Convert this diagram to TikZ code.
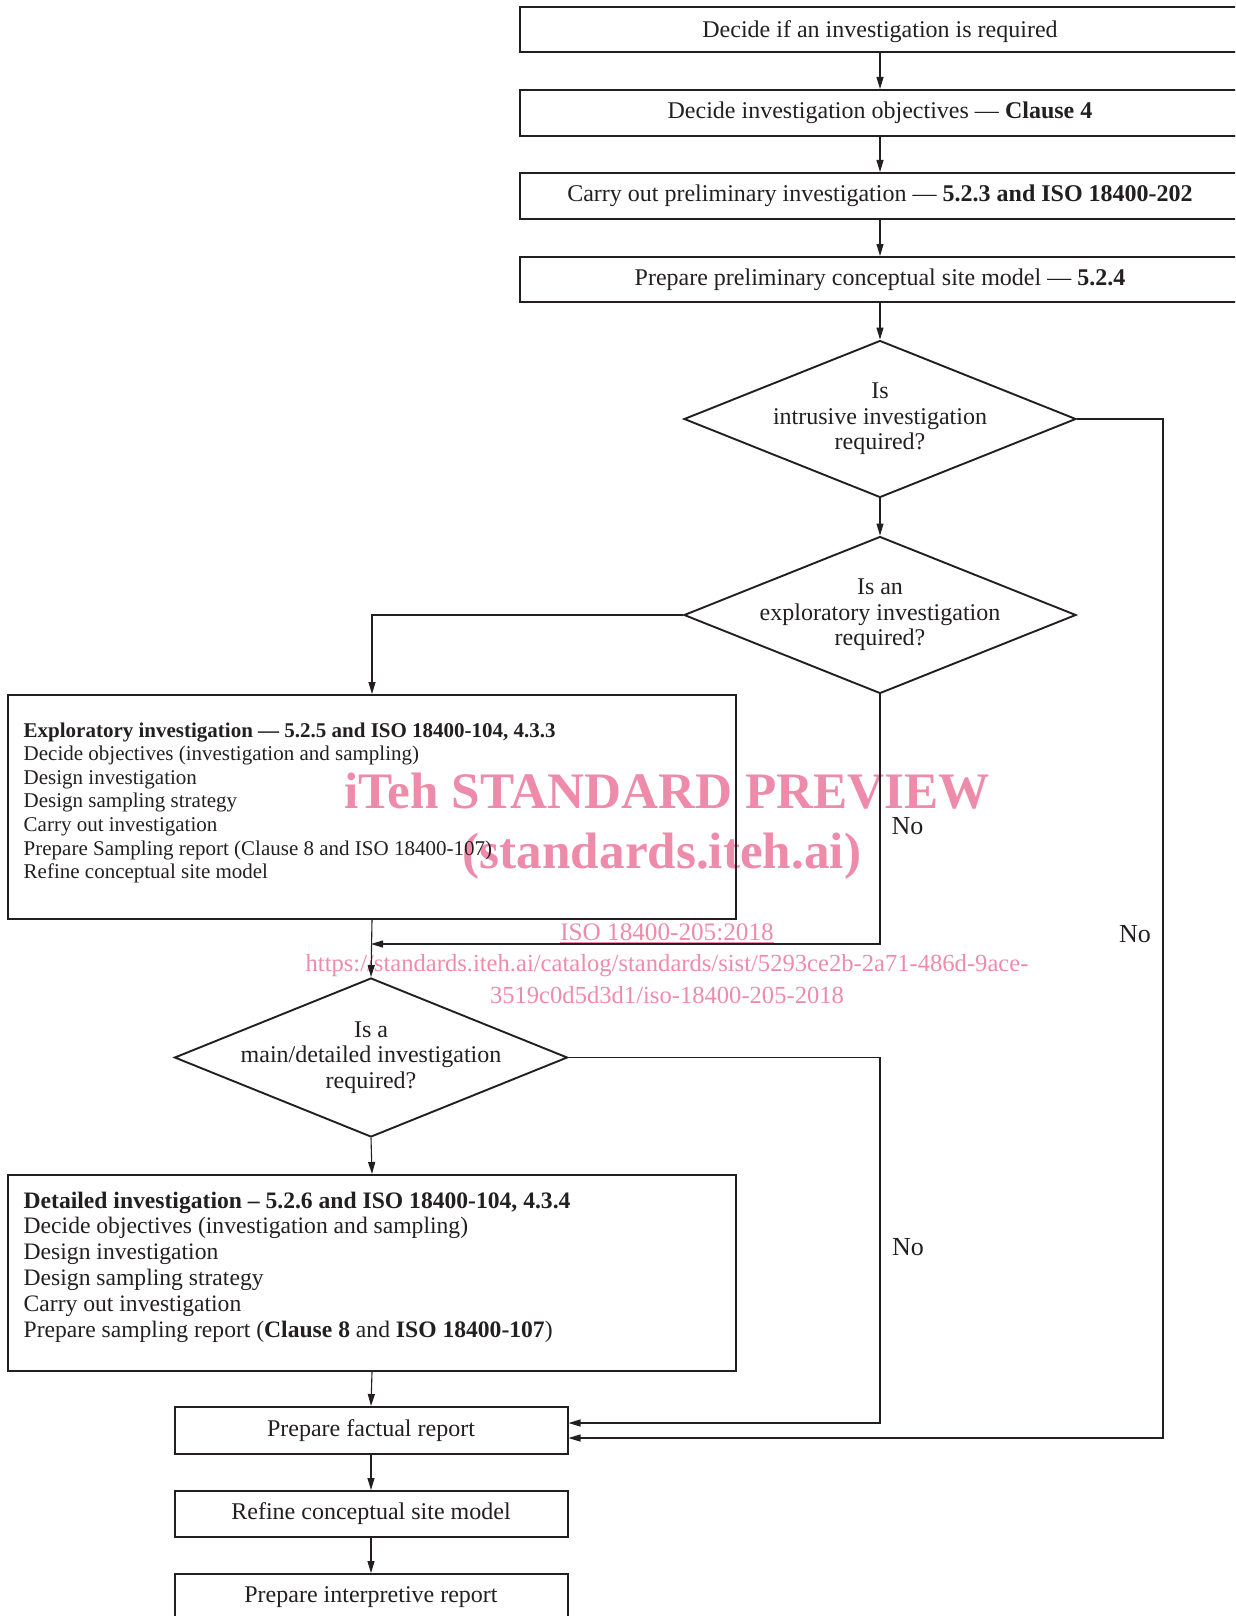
\documentclass[tikz,border=0pt]{standalone}
\usepackage{fontspec}
\setmainfont{Liberation Serif}
\usetikzlibrary{shapes.geometric,arrows.meta}
\definecolor{ink}{RGB}{35,31,32}
\definecolor{wmpink}{RGB}{239,139,170}
\begin{document}
\begin{tikzpicture}[x=1pt,y=-1pt,
  box/.style={draw=ink, line width=2pt, rectangle, inner sep=0pt, text=ink, font=\fontsize{24}{25.5}\selectfont},
  widebox/.style={box, minimum width=720pt, minimum height=45pt},
  lowbox/.style={box, minimum width=393pt, minimum height=46pt},
  dia/.style={draw=ink, line width=1.9pt, shape=diamond, inner sep=0pt, minimum width=392pt, minimum height=157pt},
  dtxt/.style={align=center, text=ink, font=\fontsize{24}{25.5}\selectfont},
  arr/.style={draw=ink, line width=1.1pt, -{Triangle[length=12pt,width=7pt]}},
  nolab/.style={font=\fontsize{26}{28}\selectfont, text=ink, inner sep=0pt},
  wmbig/.style={font=\fontsize{51.2}{55}\selectfont\bfseries, text=wmpink, inner sep=0pt},
  wmsmall/.style={font=\fontsize{24.6}{27}\selectfont, text=wmpink, inner sep=0pt},
]
\useasboundingbox (0,0) rectangle (1235,1616);
\clip (0,0) rectangle (1235,1616);

% watermark (under the drawing)
\node[wmbig, anchor=base] (wm1) at (667,808) {iTeh STANDARD PREVIEW};
\node[wmbig, anchor=base] (wm2) at (662,868) {(standards.iteh.ai)};
\node[wmsmall, font=\fontsize{25.2}{27}\selectfont, anchor=base] (wm3) at (667,940) {\underline{ISO 18400-205:2018}};
\node[wmsmall, anchor=base] (wm4) at (667,971) {https://standards.iteh.ai/catalog/standards/sist/5293ce2b-2a71-486d-9ace-};
\node[wmsmall, anchor=base] (wm5) at (667,1003) {3519c0d5d3d1/iso-18400-205-2018};

% top boxes
\node[widebox, minimum height=45pt, text depth=0pt] (b1) at (880,29.5) {Decide if an investigation is required};
\node[widebox, minimum height=46pt] (b2) at (880,113) {Decide investigation objectives --- \textbf{Clause 4}};
\node[widebox, minimum height=46pt] (b3) at (880,196) {Carry out preliminary investigation --- \textbf{5.2.3 and ISO 18400-202}};
\node[widebox, minimum height=45pt] (b4) at (880,279.5) {Prepare preliminary conceptual site model --- \textbf{5.2.4}};

% decisions
\node[dia, label={[dtxt]center:{Is\\intrusive investigation\\required?}}] (d1) at (880,419) {};
\node[dia, label={[dtxt]center:{Is an\\exploratory investigation\\required?}}] (d2) at (880,615) {};
\node[dia, minimum width=393pt, minimum height=159pt, label={[dtxt]center:{Is a\\main/detailed investigation\\required?}}] (d3) at (371,1057.5) {};

% exploratory box
\node[box, anchor=north west] (ex) at (7,694) {\parbox[c][224pt][t]{728pt}{\fontsize{21}{23.6}\selectfont\leftskip=15.7pt\rule{0pt}{42pt}\textbf{Exploratory investigation --- 5.2.5 and ISO 18400-104, 4.3.3}\par
Decide objectives (investigation and sampling)\par
Design investigation\par
Design sampling strategy\par
Carry out investigation\par
Prepare Sampling report (Clause 8 and ISO 18400-107)\par
Refine conceptual site model}};

% detailed box
\node[box, anchor=north west] (det) at (7,1174) {\parbox[c][196pt][t]{728pt}{\fontsize{23.6}{25.8}\selectfont\leftskip=15.7pt\rule{0pt}{33pt}\textbf{Detailed investigation -- 5.2.6 and ISO 18400-104, 4.3.4}\par
Decide objectives (investigation and sampling)\par
Design investigation\par
Design sampling strategy\par
Carry out investigation\par
Prepare sampling report (\textbf{Clause 8} and \textbf{ISO 18400-107})}};

% lower boxes
\node[lowbox, minimum height=47pt] (fr) at (371,1430.5) {Prepare factual report};
\node[lowbox] (rf) at (371,1514) {Refine conceptual site model};
\node[lowbox] (ip) at (371,1597) {Prepare interpretive report};

% connectors
\draw[arr] (b1) -- (b2);
\draw[arr] (b2) -- (b3);
\draw[arr] (b3) -- (b4);
\draw[arr] (b4) -- (d1);
\draw[arr] (d1) -- (d2);
\draw[arr] (d2.west) -| (ex.north);
\coordinate (j1) at (371,944);
\draw[arr] (d2.south) |- (j1);
\draw[arr] (ex.south) -- (d3.north);
\draw[arr] (d3.south) -- (det.north);
\draw[arr] (det.south) -- (fr.north);
\draw[arr] (fr) -- (rf);
\draw[arr] (rf) -- (ip);
\coordinate (k1) at (880,1423);
\draw[arr] (d3.east) -| (k1) -- (fr.east |- k1);
\coordinate (k2) at (1163,1438);
\draw[arr] (d1.east) -| (k2) -- (fr.east |- k2);

% labels
\node[nolab] (no1) at (907.5,826) {No};
\node[nolab] (no2) at (1135,934) {No};
\node[nolab] (no3) at (908,1247) {No};
\end{tikzpicture}
\end{document}
